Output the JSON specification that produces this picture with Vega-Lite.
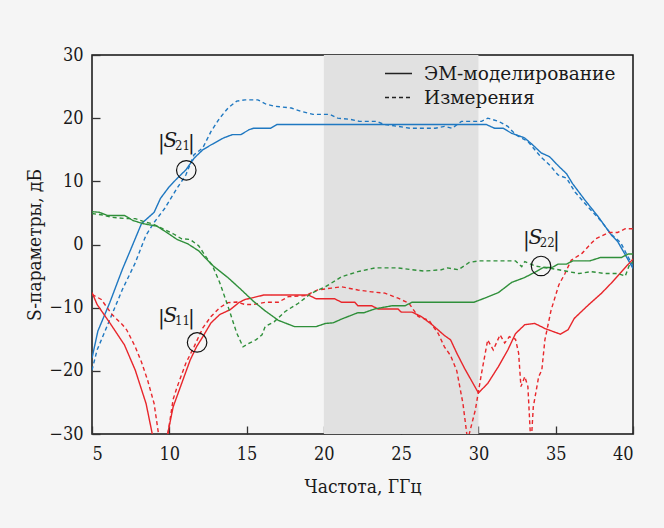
{
  "$schema": "https://vega.github.io/schema/vega-lite/v6.json",
  "width": 541,
  "height": 379,
  "autosize": {"type": "none"},
  "padding": {"left": 92, "top": 55, "right": 31, "bottom": 94},
  "background": "#f5f5f5",
  "datasets": {
    "curves": [
      {"s":"S21","t":"m","f":5,"v":-18},{"s":"S21","t":"m","f":5.38,"v":-13.7},{"s":"S21","t":"m","f":6.15,"v":-9.2},{"s":"S21","t":"m","f":6.97,"v":-3.9},{"s":"S21","t":"m","f":7.52,"v":-0.7},{"s":"S21","t":"m","f":8.2,"v":3.3},{"s":"S21","t":"m","f":9.02,"v":5.1},{"s":"S21","t":"m","f":9.43,"v":7.3},{"s":"S21","t":"m","f":9.98,"v":9.1},{"s":"S21","t":"m","f":10.52,"v":10.5},{"s":"S21","t":"m","f":11.07,"v":11.8},{"s":"S21","t":"m","f":11.62,"v":13.7},{"s":"S21","t":"m","f":12.17,"v":15.0},{"s":"S21","t":"m","f":12.72,"v":15.8},{"s":"S21","t":"m","f":13.54,"v":16.9},{"s":"S21","t":"m","f":14.09,"v":17.4},{"s":"S21","t":"m","f":14.63,"v":17.4},{"s":"S21","t":"m","f":15.18,"v":18.2},{"s":"S21","t":"m","f":15.45,"v":18.4},{"s":"S21","t":"m","f":16.55,"v":18.4},{"s":"S21","t":"m","f":16.96,"v":19.0},{"s":"S21","t":"m","f":30.5,"v":19.0},{"s":"S21","t":"m","f":31.05,"v":18.4},{"s":"S21","t":"m","f":31.6,"v":18.4},{"s":"S21","t":"m","f":32.15,"v":17.6},{"s":"S21","t":"m","f":32.97,"v":16.9},{"s":"S21","t":"m","f":33.5,"v":15.8},{"s":"S21","t":"m","f":34.06,"v":14.5},{"s":"S21","t":"m","f":34.6,"v":13.9},{"s":"S21","t":"m","f":35.15,"v":12.5},{"s":"S21","t":"m","f":35.7,"v":11.2},{"s":"S21","t":"m","f":36.1,"v":9.6},{"s":"S21","t":"m","f":36.9,"v":7.0},{"s":"S21","t":"m","f":37.75,"v":4.4},{"s":"S21","t":"m","f":38.6,"v":1.5},{"s":"S21","t":"m","f":39.0,"v":0.5},{"s":"S21","t":"m","f":39.54,"v":-1.8},{"s":"S21","t":"m","f":40,"v":-3.8},
      {"s":"S21","t":"e","f":5,"v":-19.9},{"s":"S21","t":"e","f":5.33,"v":-16.7},{"s":"S21","t":"e","f":6.15,"v":-11.9},{"s":"S21","t":"e","f":6.97,"v":-7.1},{"s":"S21","t":"e","f":7.8,"v":-2.9},{"s":"S21","t":"e","f":8.48,"v":1.4},{"s":"S21","t":"e","f":9.02,"v":3.5},{"s":"S21","t":"e","f":9.7,"v":5.7},{"s":"S21","t":"e","f":10.5,"v":8.9},{"s":"S21","t":"e","f":11.07,"v":11.0},{"s":"S21","t":"e","f":11.6,"v":14.2},{"s":"S21","t":"e","f":12.17,"v":15.3},{"s":"S21","t":"e","f":12.7,"v":17.9},{"s":"S21","t":"e","f":13.26,"v":20.0},{"s":"S21","t":"e","f":13.8,"v":21.6},{"s":"S21","t":"e","f":14.36,"v":22.7},{"s":"S21","t":"e","f":14.9,"v":22.9},{"s":"S21","t":"e","f":15.73,"v":22.9},{"s":"S21","t":"e","f":16.27,"v":22.2},{"s":"S21","t":"e","f":16.8,"v":21.9},{"s":"S21","t":"e","f":17.9,"v":21.6},{"s":"S21","t":"e","f":18.5,"v":21.1},{"s":"S21","t":"e","f":19.3,"v":20.6},{"s":"S21","t":"e","f":20.4,"v":20.6},{"s":"S21","t":"e","f":20.9,"v":20.0},{"s":"S21","t":"e","f":21.75,"v":19.8},{"s":"S21","t":"e","f":22.3,"v":19.5},{"s":"S21","t":"e","f":23.4,"v":19.5},{"s":"S21","t":"e","f":23.9,"v":19.0},{"s":"S21","t":"e","f":24.8,"v":18.7},{"s":"S21","t":"e","f":25.6,"v":18.4},{"s":"S21","t":"e","f":27.2,"v":18.4},{"s":"S21","t":"e","f":27.8,"v":18.7},{"s":"S21","t":"e","f":28.3,"v":18.4},{"s":"S21","t":"e","f":28.9,"v":19.5},{"s":"S21","t":"e","f":30.2,"v":19.5},{"s":"S21","t":"e","f":30.6,"v":20.0},{"s":"S21","t":"e","f":31.3,"v":19.5},{"s":"S21","t":"e","f":31.9,"v":18.7},{"s":"S21","t":"e","f":32.4,"v":17.4},{"s":"S21","t":"e","f":33.2,"v":16.3},{"s":"S21","t":"e","f":34.06,"v":13.8},{"s":"S21","t":"e","f":34.6,"v":12.6},{"s":"S21","t":"e","f":35.15,"v":11.0},{"s":"S21","t":"e","f":35.7,"v":10.5},{"s":"S21","t":"e","f":36.25,"v":8.3},{"s":"S21","t":"e","f":37.07,"v":6.0},{"s":"S21","t":"e","f":37.9,"v":3.8},{"s":"S21","t":"e","f":38.6,"v":1.6},{"s":"S21","t":"e","f":39.2,"v":0.3},{"s":"S21","t":"e","f":39.54,"v":-1.3},{"s":"S21","t":"e","f":40,"v":-3.4},
      {"s":"S11","t":"m","f":5,"v":-7.6},{"s":"S11","t":"m","f":5.33,"v":-9.5},{"s":"S11","t":"m","f":6.15,"v":-12.4},{"s":"S11","t":"m","f":7.1,"v":-15.9},{"s":"S11","t":"m","f":7.8,"v":-19.9},{"s":"S11","t":"m","f":8.5,"v":-25.2},{"s":"S11","t":"m","f":9.4,"v":-36},{"s":"S11","t":"m","f":10.25,"v":-25.7},{"s":"S11","t":"m","f":10.8,"v":-22.0},{"s":"S11","t":"m","f":11.35,"v":-18.3},{"s":"S11","t":"m","f":11.76,"v":-16.2},{"s":"S11","t":"m","f":12.17,"v":-14.6},{"s":"S11","t":"m","f":12.7,"v":-12.4},{"s":"S11","t":"m","f":13.26,"v":-11.1},{"s":"S11","t":"m","f":13.95,"v":-10.3},{"s":"S11","t":"m","f":14.5,"v":-9.2},{"s":"S11","t":"m","f":14.9,"v":-8.7},{"s":"S11","t":"m","f":15.45,"v":-8.4},{"s":"S11","t":"m","f":16.1,"v":-8.0},{"s":"S11","t":"m","f":19.0,"v":-8.0},{"s":"S11","t":"m","f":19.5,"v":-8.6},{"s":"S11","t":"m","f":20.7,"v":-8.6},{"s":"S11","t":"m","f":21.15,"v":-9.15},{"s":"S11","t":"m","f":22.0,"v":-9.15},{"s":"S11","t":"m","f":22.2,"v":-9.7},{"s":"S11","t":"m","f":23.1,"v":-9.7},{"s":"S11","t":"m","f":23.5,"v":-10.2},{"s":"S11","t":"m","f":24.8,"v":-10.2},{"s":"S11","t":"m","f":25.0,"v":-10.7},{"s":"S11","t":"m","f":25.7,"v":-10.7},{"s":"S11","t":"m","f":26.3,"v":-11.4},{"s":"S11","t":"m","f":27.0,"v":-12.7},{"s":"S11","t":"m","f":27.8,"v":-14.4},{"s":"S11","t":"m","f":28.2,"v":-15.1},{"s":"S11","t":"m","f":28.6,"v":-17.2},{"s":"S11","t":"m","f":29.1,"v":-19.6},{"s":"S11","t":"m","f":30.0,"v":-23.5},{"s":"S11","t":"m","f":30.6,"v":-22.0},{"s":"S11","t":"m","f":31.3,"v":-19.3},{"s":"S11","t":"m","f":31.9,"v":-16.7},{"s":"S11","t":"m","f":32.4,"v":-14.1},{"s":"S11","t":"m","f":33.0,"v":-12.7},{"s":"S11","t":"m","f":33.65,"v":-12.5},{"s":"S11","t":"m","f":34.3,"v":-13.3},{"s":"S11","t":"m","f":35.3,"v":-14.2},{"s":"S11","t":"m","f":35.8,"v":-13.5},{"s":"S11","t":"m","f":36.2,"v":-11.7},{"s":"S11","t":"m","f":37.1,"v":-9.6},{"s":"S11","t":"m","f":37.97,"v":-7.7},{"s":"S11","t":"m","f":38.6,"v":-6.1},{"s":"S11","t":"m","f":39.26,"v":-4.3},{"s":"S11","t":"m","f":40,"v":-2.3},
      {"s":"S11","t":"e","f":5,"v":-7.9},{"s":"S11","t":"e","f":5.6,"v":-8.7},{"s":"S11","t":"e","f":6.3,"v":-11.1},{"s":"S11","t":"e","f":6.97,"v":-12.7},{"s":"S11","t":"e","f":7.24,"v":-13.5},{"s":"S11","t":"e","f":7.8,"v":-16.2},{"s":"S11","t":"e","f":8.2,"v":-18.6},{"s":"S11","t":"e","f":8.6,"v":-21.5},{"s":"S11","t":"e","f":9.02,"v":-25.2},{"s":"S11","t":"e","f":9.6,"v":-35},{"s":"S11","t":"e","f":10.25,"v":-24.5},{"s":"S11","t":"e","f":10.5,"v":-22.6},{"s":"S11","t":"e","f":11.07,"v":-18.8},{"s":"S11","t":"e","f":11.6,"v":-16.2},{"s":"S11","t":"e","f":12.17,"v":-13.2},{"s":"S11","t":"e","f":12.7,"v":-11.4},{"s":"S11","t":"e","f":13.26,"v":-10.0},{"s":"S11","t":"e","f":13.8,"v":-9.2},{"s":"S11","t":"e","f":14.36,"v":-9.1},{"s":"S11","t":"e","f":14.9,"v":-9.5},{"s":"S11","t":"e","f":15.45,"v":-9.5},{"s":"S11","t":"e","f":16.2,"v":-9.15},{"s":"S11","t":"e","f":17.05,"v":-9.15},{"s":"S11","t":"e","f":17.7,"v":-8.25},{"s":"S11","t":"e","f":18.8,"v":-8.1},{"s":"S11","t":"e","f":19.6,"v":-7.2},{"s":"S11","t":"e","f":20.5,"v":-6.9},{"s":"S11","t":"e","f":21.15,"v":-6.7},{"s":"S11","t":"e","f":22.2,"v":-7.2},{"s":"S11","t":"e","f":23.1,"v":-7.5},{"s":"S11","t":"e","f":23.95,"v":-7.7},{"s":"S11","t":"e","f":24.8,"v":-8.5},{"s":"S11","t":"e","f":25.5,"v":-9.3},{"s":"S11","t":"e","f":26.1,"v":-11.4},{"s":"S11","t":"e","f":26.8,"v":-12.0},{"s":"S11","t":"e","f":27.4,"v":-14.1},{"s":"S11","t":"e","f":27.8,"v":-16.2},{"s":"S11","t":"e","f":28.2,"v":-17.6},{"s":"S11","t":"e","f":28.6,"v":-20.0},{"s":"S11","t":"e","f":29.0,"v":-25.2},{"s":"S11","t":"e","f":29.3,"v":-31},{"s":"S11","t":"e","f":29.8,"v":-26.2},{"s":"S11","t":"e","f":30.2,"v":-20.4},{"s":"S11","t":"e","f":30.6,"v":-15.1},{"s":"S11","t":"e","f":30.96,"v":-16.7},{"s":"S11","t":"e","f":31.4,"v":-14.3},{"s":"S11","t":"e","f":31.7,"v":-15.6},{"s":"S11","t":"e","f":32.0,"v":-14.6},{"s":"S11","t":"e","f":32.4,"v":-15.0},{"s":"S11","t":"e","f":32.6,"v":-17.2},{"s":"S11","t":"e","f":32.75,"v":-22.5},{"s":"S11","t":"e","f":33.0,"v":-20.9},{"s":"S11","t":"e","f":33.2,"v":-22.5},{"s":"S11","t":"e","f":33.4,"v":-32},{"s":"S11","t":"e","f":33.55,"v":-25.7},{"s":"S11","t":"e","f":33.9,"v":-20.9},{"s":"S11","t":"e","f":34.1,"v":-19.9},{"s":"S11","t":"e","f":34.3,"v":-15.1},{"s":"S11","t":"e","f":34.7,"v":-10.4},{"s":"S11","t":"e","f":35.2,"v":-6.4},{"s":"S11","t":"e","f":35.6,"v":-4.6},{"s":"S11","t":"e","f":36.0,"v":-2.5},{"s":"S11","t":"e","f":36.7,"v":-1.4},{"s":"S11","t":"e","f":37.3,"v":0.2},{"s":"S11","t":"e","f":37.6,"v":0.9},{"s":"S11","t":"e","f":38.44,"v":1.9},{"s":"S11","t":"e","f":39.0,"v":1.9},{"s":"S11","t":"e","f":39.5,"v":2.5},{"s":"S11","t":"e","f":40,"v":2.5},
      {"s":"S22","t":"m","f":5,"v":5.2},{"s":"S22","t":"m","f":5.47,"v":5.1},{"s":"S22","t":"m","f":6.0,"v":4.6},{"s":"S22","t":"m","f":7.1,"v":4.6},{"s":"S22","t":"m","f":7.65,"v":3.8},{"s":"S22","t":"m","f":8.3,"v":3.3},{"s":"S22","t":"m","f":9.2,"v":2.9},{"s":"S22","t":"m","f":9.84,"v":1.9},{"s":"S22","t":"m","f":10.5,"v":0.8},{"s":"S22","t":"m","f":11.2,"v":0.1},{"s":"S22","t":"m","f":11.9,"v":-1.0},{"s":"S22","t":"m","f":12.4,"v":-2.3},{"s":"S22","t":"m","f":12.85,"v":-3.4},{"s":"S22","t":"m","f":13.8,"v":-5.25},{"s":"S22","t":"m","f":14.63,"v":-7.1},{"s":"S22","t":"m","f":15.45,"v":-9.0},{"s":"S22","t":"m","f":16.2,"v":-10.5},{"s":"S22","t":"m","f":17.05,"v":-12.0},{"s":"S22","t":"m","f":18.1,"v":-13.0},{"s":"S22","t":"m","f":19.5,"v":-13.0},{"s":"S22","t":"m","f":20.1,"v":-12.5},{"s":"S22","t":"m","f":20.6,"v":-12.4},{"s":"S22","t":"m","f":21.15,"v":-11.8},{"s":"S22","t":"m","f":22.2,"v":-10.8},{"s":"S22","t":"m","f":22.6,"v":-10.8},{"s":"S22","t":"m","f":23.3,"v":-10.2},{"s":"S22","t":"m","f":24.4,"v":-9.7},{"s":"S22","t":"m","f":25.25,"v":-9.7},{"s":"S22","t":"m","f":25.7,"v":-9.15},{"s":"S22","t":"m","f":29.7,"v":-9.15},{"s":"S22","t":"m","f":30.5,"v":-8.4},{"s":"S22","t":"m","f":31.3,"v":-7.6},{"s":"S22","t":"m","f":32.15,"v":-6.0},{"s":"S22","t":"m","f":32.97,"v":-5.25},{"s":"S22","t":"m","f":33.8,"v":-4.2},{"s":"S22","t":"m","f":34.2,"v":-3.65},{"s":"S22","t":"m","f":34.75,"v":-3.65},{"s":"S22","t":"m","f":35.15,"v":-3.1},{"s":"S22","t":"m","f":35.7,"v":-3.1},{"s":"S22","t":"m","f":36.1,"v":-2.6},{"s":"S22","t":"m","f":37.2,"v":-2.6},{"s":"S22","t":"m","f":37.9,"v":-2.05},{"s":"S22","t":"m","f":39.26,"v":-2.05},{"s":"S22","t":"m","f":39.7,"v":-1.5},{"s":"S22","t":"m","f":40,"v":-1.5},
      {"s":"S22","t":"e","f":5,"v":4.9},{"s":"S22","t":"e","f":5.6,"v":4.7},{"s":"S22","t":"e","f":6.3,"v":4.3},{"s":"S22","t":"e","f":7.24,"v":4.1},{"s":"S22","t":"e","f":7.8,"v":4.1},{"s":"S22","t":"e","f":8.5,"v":3.5},{"s":"S22","t":"e","f":8.9,"v":3.3},{"s":"S22","t":"e","f":9.57,"v":2.5},{"s":"S22","t":"e","f":10.25,"v":1.7},{"s":"S22","t":"e","f":10.8,"v":0.9},{"s":"S22","t":"e","f":11.35,"v":0.8},{"s":"S22","t":"e","f":11.9,"v":-0.2},{"s":"S22","t":"e","f":12.4,"v":-2.05},{"s":"S22","t":"e","f":12.8,"v":-3.4},{"s":"S22","t":"e","f":13.26,"v":-6.0},{"s":"S22","t":"e","f":13.8,"v":-9.8},{"s":"S22","t":"e","f":14.36,"v":-14.0},{"s":"S22","t":"e","f":14.77,"v":-16.2},{"s":"S22","t":"e","f":15.18,"v":-15.6},{"s":"S22","t":"e","f":15.6,"v":-15.1},{"s":"S22","t":"e","f":16.0,"v":-14.3},{"s":"S22","t":"e","f":16.2,"v":-13.0},{"s":"S22","t":"e","f":16.8,"v":-12.2},{"s":"S22","t":"e","f":17.5,"v":-10.6},{"s":"S22","t":"e","f":18.35,"v":-9.3},{"s":"S22","t":"e","f":19.2,"v":-7.7},{"s":"S22","t":"e","f":20.1,"v":-6.7},{"s":"S22","t":"e","f":21.15,"v":-5.1},{"s":"S22","t":"e","f":22.2,"v":-4.3},{"s":"S22","t":"e","f":23.3,"v":-3.7},{"s":"S22","t":"e","f":24.8,"v":-3.7},{"s":"S22","t":"e","f":25.7,"v":-4.0},{"s":"S22","t":"e","f":26.5,"v":-4.2},{"s":"S22","t":"e","f":27.6,"v":-4.0},{"s":"S22","t":"e","f":28.0,"v":-3.7},{"s":"S22","t":"e","f":28.7,"v":-4.0},{"s":"S22","t":"e","f":29.4,"v":-2.85},{"s":"S22","t":"e","f":30.0,"v":-2.6},{"s":"S22","t":"e","f":32.4,"v":-2.6},{"s":"S22","t":"e","f":32.8,"v":-3.5},{"s":"S22","t":"e","f":33.0,"v":-2.7},{"s":"S22","t":"e","f":33.65,"v":-3.4},{"s":"S22","t":"e","f":34.3,"v":-3.65},{"s":"S22","t":"e","f":35.2,"v":-4.0},{"s":"S22","t":"e","f":36.5,"v":-4.6},{"s":"S22","t":"e","f":37.3,"v":-4.3},{"s":"S22","t":"e","f":38.2,"v":-4.6},{"s":"S22","t":"e","f":39.0,"v":-4.6},{"s":"S22","t":"e","f":39.5,"v":-5.0},{"s":"S22","t":"e","f":39.8,"v":-3.0},{"s":"S22","t":"e","f":40,"v":-2.85}
    ],
    "circles": [
      {"f": 11.1, "v": 11.75},
      {"f": 11.8, "v": -15.5},
      {"f": 34.05, "v": -3.4}
    ],
    "labels": [
      {"f": 10.4, "v": 15.5, "sub": "21"},
      {"f": 10.4, "v": -12.2, "sub": "11"},
      {"f": 34.0, "v": 0.1, "sub": "22"}
    ],
    "band": [{"f": 20, "f2": 30, "v": -30, "v2": 30}]
  },
  "encoding": {
    "x": {"field": "f", "type": "quantitative", "scale": {"domain": [5, 40], "nice": false, "zero": false},
      "axis": {"values": [5, 10, 15, 20, 25, 30, 35, 40]}, "title": "Частота, ГГц"},
    "y": {"field": "v", "type": "quantitative", "scale": {"domain": [-30, 30], "nice": false, "zero": false},
      "axis": {"values": [-30, -20, -10, 0, 10, 20, 30]}, "title": "S-параметры, дБ"}
  },
  "layer": [
    {
      "data": {"name": "band"},
      "mark": {"type": "rect", "fill": "#e1e1e1"},
      "encoding": {"x2": {"field": "f2"}, "y2": {"field": "v2"}}
    },
    {
      "data": {"name": "curves"},
      "mark": {"type": "line", "strokeWidth": 1.4, "clip": true},
      "encoding": {
        "color": {"field": "s", "type": "nominal", "scale": {"domain": ["S21", "S11", "S22"], "range": ["#1f78c1", "#e8262b", "#2f8f3a"]}, "legend": null},
        "strokeDash": {"field": "t", "type": "nominal", "scale": {"domain": ["m", "e"], "range": [[1, 0], [4, 3]]},
          "legend": {"title": null, "orient": "none", "legendX": 292, "legendY": 4,
            "labelExpr": "datum.label == 'm' ? 'ЭМ-моделирование' : 'Измерения'",
            "symbolType": "stroke", "symbolSize": 729, "symbolStrokeColor": "#222", "symbolStrokeWidth": 1.5,
            "labelFont": "DejaVu Serif", "labelFontSize": 18.5, "labelColor": "#1a1a1a", "labelOffset": 11, "labelLimit": 400, "rowPadding": -1}}
      }
    },
    {
      "data": {"name": "circles"},
      "mark": {"type": "point", "shape": "circle", "size": 380, "filled": false, "stroke": "#111", "strokeWidth": 1.2, "opacity": 1}
    },
    {
      "data": {"name": "labels"},
      "mark": {"type": "text", "text": "|", "dx": -14, "font": "DejaVu Serif", "fontSize": 20, "baseline": "alphabetic", "align": "center", "color": "#1a1a1a", "dy": 2}
    },
    {
      "data": {"name": "labels"},
      "mark": {"type": "text", "text": "|", "dx": 16, "font": "DejaVu Serif", "fontSize": 20, "baseline": "alphabetic", "align": "center", "color": "#1a1a1a", "dy": 2}
    },
    {
      "data": {"name": "labels"},
      "mark": {"type": "text", "text": "S", "dx": -5, "font": "DejaVu Serif", "fontStyle": "italic", "fontSize": 20, "baseline": "alphabetic", "align": "center", "color": "#1a1a1a"}
    },
    {
      "data": {"name": "labels"},
      "mark": {"type": "text", "dx": 7, "dy": 3, "font": "DejaVu Serif Condensed", "fontSize": 13, "baseline": "alphabetic", "align": "center", "color": "#1a1a1a"},
      "encoding": {"text": {"field": "sub"}}
    }
  ],
  "config": {
    "view": {"stroke": "#111", "strokeWidth": 1.5, "fill": null},
    "axis": {"domain": false, "grid": false, "ticks": true, "tickSize": 8, "offset": -8, "zindex": 1, "tickColor": "#333", "tickWidth": 1.3,
      "labelFont": "DejaVu Serif Condensed", "labelFontSize": 18, "labelColor": "#1a1a1a",
      "titleFont": "DejaVu Serif Condensed", "titleFontSize": 19, "titleFontWeight": "normal", "titleColor": "#1a1a1a"},
    "axisX": {"labelPadding": 11, "titlePadding": 14},
    "axisY": {"labelPadding": 9, "titlePadding": 4}
  }
}
